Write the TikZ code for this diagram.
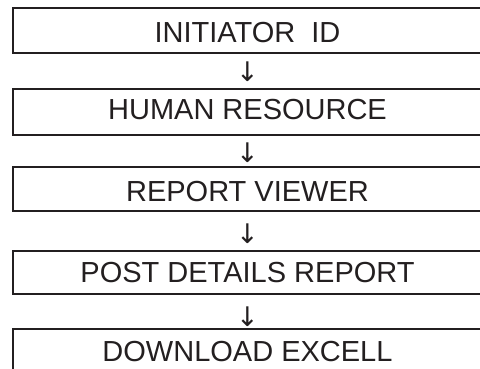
\documentclass[tikz,border=0pt]{standalone}
\usepackage{fontspec}
\setmainfont{Liberation Sans}
\newfontfamily\arrowfont{DejaVu Sans}
\definecolor{ink}{HTML}{231F20}
\begin{document}
\begin{tikzpicture}[x=1pt,y=-1pt,
  boxline/.style={draw=ink,line width=2pt},
  label/.style={anchor=base,inner sep=0pt,text=ink,font=\fontsize{29}{34}\selectfont},
  arrowglyph/.style={anchor=center,inner sep=0pt,text=ink,font=\arrowfont\fontsize{27}{32}\selectfont}]
\useasboundingbox (0,0) rectangle (480,369);
\clip (0,0) rectangle (480,369);
\fill[white] (0,0) rectangle (480,369);
\draw[boxline] (12.5,8.3) rectangle (483,52.7);
\draw[boxline] (12.5,89.3) rectangle (483,135);
\draw[boxline] (12.5,166.7) rectangle (483,211);
\draw[boxline] (12.5,250.7) rectangle (483,294);
\draw[boxline] (12.5,329) rectangle (483,400);
\node[label] (t1) at (247.5,42.7) {INITIATOR\ \ ID};
\node[label] (t2) at (247.5,120) {HUMAN RESOURCE};
\node[label] (t3) at (247.5,201.7) {REPORT VIEWER};
\node[label] (t4) at (247.5,282.3) {POST DETAILS REPORT};
\node[label] (t5) at (247.5,361.7) {DOWNLOAD EXCELL};
\node[arrowglyph] (a1) at (247.5,72) {↓};
\node[arrowglyph] (a2) at (247.5,152.8) {↓};
\node[arrowglyph] (a3) at (247.5,234) {↓};
\node[arrowglyph] (a4) at (247.5,316.5) {↓};
\end{tikzpicture}
\end{document}
